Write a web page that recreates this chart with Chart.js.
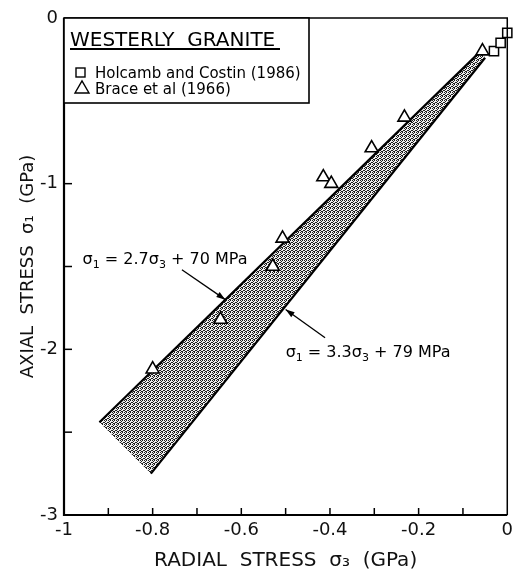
<!DOCTYPE html>
<html><head><meta charset="utf-8">
<script src="https://cdn.jsdelivr.net/npm/chart.js@4/dist/chart.umd.min.js"></script>
<style>html,body{margin:0;padding:0;background:#fff;}#wrap{width:518px;height:571px;}</style>
</head><body><div id="wrap"><canvas id="c" width="518" height="571"></canvas></div>
<script>
// ---- data (GPa) ----
const holcombX = [-0.030, -0.015, 0.000];
const holcombY = [-0.20, -0.15, -0.09];
const braceX = [-0.800, -0.647, -0.529, -0.507, -0.415, -0.397, -0.306, -0.232, -0.056];
const braceY = [-2.12, -1.82, -1.50, -1.33, -0.96, -1.00, -0.785, -0.60, -0.20];
const upperX = [-0.92, -0.06];   // sigma1 = 2.7 sigma3 + 70 MPa
const upperY = [-2.44, -0.20];
const lowerX = [-0.804, -0.05];  // sigma1 = 3.3 sigma3 + 79 MPa
const lowerY = [-2.75, -0.24];
const xTickVals = [-1, -0.8, -0.6, -0.4, -0.2, 0];
const xTickLabels = ['-1', '-0.8', '-0.6', '-0.4', '-0.2', '0'];
const yTickVals = [-3, -2, -1, 0];
const yTickLabels = ['-3', '-2', '-1', '0'];
const xMinor = [-0.9, -0.8, -0.7, -0.6, -0.5, -0.4, -0.3, -0.2, -0.1];
const yMinor = [-2.5, -2, -1.5, -1, -0.5];

const pts = (xs, ys) => xs.map((x, i) => ({x: x, y: ys[i]}));
const bandPoly = pts(upperX, upperY).concat(pts(lowerX, lowerY).reverse());

const FONT = "'DejaVu Sans', sans-serif";

function makeStipple(ctx) {
  const c = document.createElement('canvas'); c.width = 4; c.height = 4;
  const g = c.getContext('2d');
  g.fillStyle = '#eeeeee'; g.fillRect(0, 0, 4, 4);
  g.fillStyle = '#1e1e1e';
  [[0,0],[2,0],[1,1],[3,2],[0,2],[2,3],[1,3]].forEach(p => g.fillRect(p[0], p[1], 1, 1));
  return ctx.createPattern(c, 'repeat');
}

function drawRich(ctx, parts, x, y, size) {
  let cx = x;
  parts.forEach(p => {
    if (p.sub) {
      ctx.font = Math.round(size * 0.68) + 'px ' + FONT;
      ctx.fillText(p.t, cx, y + size * 0.28);
    } else {
      ctx.font = size + 'px ' + FONT;
      ctx.fillText(p.t, cx, y);
    }
    cx += ctx.measureText(p.t).width;
  });
}

function arrow(ctx, x1, y1, x2, y2) {
  ctx.beginPath(); ctx.moveTo(x1, y1); ctx.lineTo(x2, y2); ctx.stroke();
  const a = Math.atan2(y2 - y1, x2 - x1), L = 9, W = 3;
  ctx.beginPath();
  ctx.moveTo(x2, y2);
  ctx.lineTo(x2 - L * Math.cos(a) + W * Math.sin(a), y2 - L * Math.sin(a) - W * Math.cos(a));
  ctx.lineTo(x2 - L * Math.cos(a) - W * Math.sin(a), y2 - L * Math.sin(a) + W * Math.cos(a));
  ctx.closePath(); ctx.fill();
}

const decor = {
  id: 'decor',
  afterDatasetsDraw(chart) {
    const ctx = chart.ctx, a = chart.chartArea;
    const xs = chart.scales.x, ys = chart.scales.y;
    ctx.save();
    ctx.strokeStyle = '#000'; ctx.fillStyle = '#000';
    // frame
    ctx.lineWidth = 1.5;
    ctx.beginPath(); ctx.moveTo(a.left, a.top); ctx.lineTo(a.right, a.top); ctx.lineTo(a.right, a.bottom); ctx.stroke();
    ctx.lineWidth = 2.2;
    ctx.beginPath(); ctx.moveTo(a.left, a.top); ctx.lineTo(a.left, a.bottom); ctx.lineTo(a.right, a.bottom); ctx.stroke();
    // inner ticks
    ctx.lineWidth = 1.5;
    xMinor.forEach(v => { const px = xs.getPixelForValue(v); ctx.beginPath(); ctx.moveTo(px, a.bottom); ctx.lineTo(px, a.bottom - 7); ctx.stroke(); });
    yMinor.forEach(v => { const py = ys.getPixelForValue(v); ctx.beginPath(); ctx.moveTo(a.left, py); ctx.lineTo(a.left + 8, py); ctx.stroke(); });
    // legend box
    const lx = a.left, ly = a.top, lw = 245, lh = 85;
    ctx.fillStyle = '#fff'; ctx.fillRect(lx, ly, lw, lh); ctx.fillStyle = '#000';
    ctx.lineWidth = 1.6; ctx.strokeRect(lx, ly, lw, lh);
    ctx.textBaseline = 'alphabetic'; ctx.textAlign = 'left';
    ctx.font = '20px ' + FONT;
    ctx.fillText('WESTERLY  GRANITE', lx + 6, ly + 28);
    ctx.lineWidth = 2; ctx.beginPath(); ctx.moveTo(lx + 6, ly + 31); ctx.lineTo(lx + 216, ly + 31); ctx.stroke();
    ctx.lineWidth = 1.4;
    ctx.strokeRect(lx + 12, ly + 50, 9, 9);
    ctx.beginPath(); ctx.moveTo(lx + 11, ly + 75); ctx.lineTo(lx + 25, ly + 75); ctx.lineTo(lx + 18, ly + 63); ctx.closePath(); ctx.stroke();
    ctx.font = '15px ' + FONT;
    ctx.fillText('Holcamb and Costin (1986)', lx + 31, ly + 60);
    ctx.fillText('Brace et al (1966)', lx + 31, ly + 76);
    // annotations
    const P = (x, y) => [xs.getPixelForValue(x), ys.getPixelForValue(y)];
    ctx.lineWidth = 1.3;
    let t = P(-0.958, -1.485);
    drawRich(ctx, [{t:'σ'},{t:'1',sub:true},{t:' = 2.7σ'},{t:'3',sub:true},{t:' + 70 MPa'}], t[0], t[1], 16);
    let s = P(-0.734, -1.52), e = P(-0.636, -1.70);
    arrow(ctx, s[0], s[1], e[0], e[1]);
    t = P(-0.50, -2.045);
    drawRich(ctx, [{t:'σ'},{t:'1',sub:true},{t:' = 3.3σ'},{t:'3',sub:true},{t:' + 79 MPa'}], t[0], t[1], 16);
    s = P(-0.411, -1.93); e = P(-0.50, -1.76);
    arrow(ctx, s[0], s[1], e[0], e[1]);
    ctx.restore();
  }
};

const cv = document.getElementById('c');
const ctx0 = cv.getContext('2d');
const stipple = makeStipple(ctx0);

new Chart(cv, {
  type: 'scatter',
  data: {
    datasets: [
      { data: bandPoly, showLine: true, fill: 'shape', backgroundColor: stipple, borderWidth: 0, borderColor: 'rgba(0,0,0,0)', pointRadius: 0, order: 5 },
      { data: pts(upperX, upperY), showLine: true, borderColor: '#000', borderWidth: 2.2, pointRadius: 0, fill: false, order: 4 },
      { data: pts(lowerX, lowerY), showLine: true, borderColor: '#000', borderWidth: 2.2, pointRadius: 0, fill: false, order: 4 },
      { data: pts(holcombX, holcombY), pointStyle: 'rect', pointRadius: 6.5, backgroundColor: '#fff', borderColor: '#000', borderWidth: 1.5, clip: false, order: 1 },
      { data: pts(braceX, braceY), pointStyle: 'triangle', pointRadius: 7.5, backgroundColor: '#fff', borderColor: '#000', borderWidth: 1.6, clip: false, order: 1 }
    ]
  },
  options: {
    responsive: false, devicePixelRatio: 1, animation: false,
    layout: { padding: { left: 0, right: 6, top: 18, bottom: 0 } },
    plugins: { legend: { display: false }, tooltip: { enabled: false } },
    scales: {
      x: {
        type: 'linear', min: -1, max: 0,
        afterBuildTicks: s => { s.ticks = xTickVals.map(v => ({value: v})); },
        afterFit: s => { s.height = 56; },
        ticks: { padding: 5, color: '#111', font: { family: FONT, size: 18 }, maxRotation: 0,
          callback: v => xTickLabels[xTickVals.indexOf(Math.round(v * 10) / 10)] },
        grid: { display: false, drawTicks: false }, border: { display: false },
        title: { display: true, text: 'RADIAL  STRESS  σ₃  (GPa)', color: '#111', font: { family: FONT, size: 20, lineHeight: 1.0 }, padding: { top: 0, bottom: 0 } }
      },
      y: {
        type: 'linear', min: -3, max: 0,
        afterBuildTicks: s => { s.ticks = yTickVals.map(v => ({value: v})); },
        afterFit: s => { s.width = 64; },
        ticks: { padding: 6, color: '#111', font: { family: FONT, size: 18 },
          callback: v => yTickLabels[yTickVals.indexOf(Math.round(v))] },
        grid: { display: false, drawTicks: false }, border: { display: false },
        title: { display: true, text: 'AXIAL  STRESS  σ₁  (GPa)', color: '#111', font: { family: FONT, size: 18, lineHeight: 1.0 }, padding: { top: 19, bottom: 0 } }
      }
    }
  },
  plugins: [decor]
});
</script></body></html>
